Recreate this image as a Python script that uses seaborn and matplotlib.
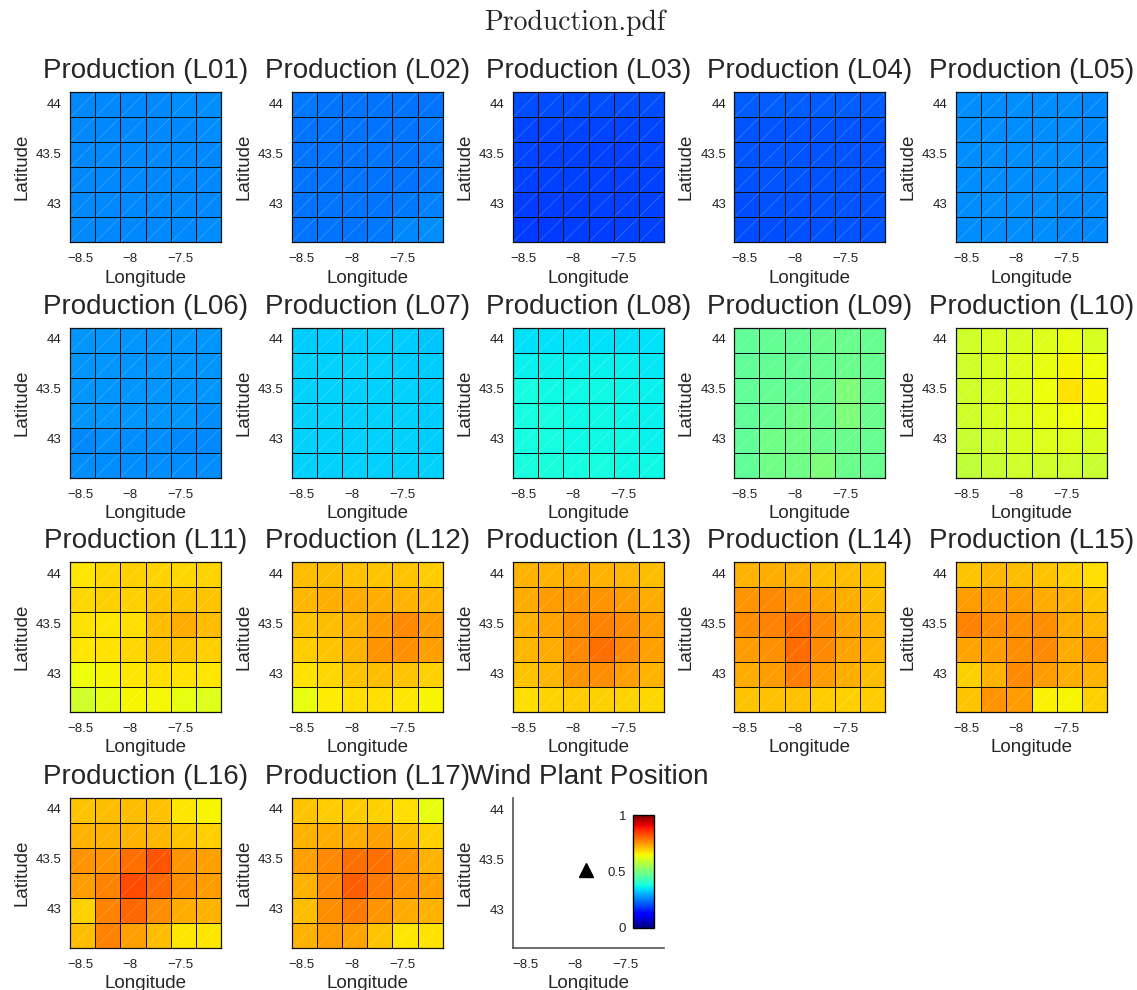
import numpy as np
import pandas as pd
import matplotlib
matplotlib.use("Agg")
import matplotlib.pyplot as plt
import seaborn as sns
from matplotlib.collections import LineCollection

# ---------------- data ----------------
lon_start, lon_step = -8.6, 0.25      # cell edges in longitude (6 cells)
lat_top, lat_step = 44.125, 0.25      # cell edges in latitude (6 cells, top->bottom)
lon_ticks = [-8.5, -8.0, -7.5]
lon_ticklabels = ["\u22128.5", "\u22128", "\u22127.5"]
lat_ticks = [44.0, 43.5, 43.0]
lat_ticklabels = ["44", "43.5", "43"]

# rows are listed from north (top) to south (bottom), columns west -> east
L01 = [[0.26, 0.26, 0.26, 0.26, 0.265, 0.265],
       [0.26, 0.26, 0.26, 0.26, 0.26, 0.265],
       [0.26, 0.26, 0.26, 0.26, 0.26, 0.26],
       [0.26, 0.26, 0.26, 0.26, 0.26, 0.26],
       [0.26, 0.26, 0.26, 0.26, 0.26, 0.26],
       [0.26, 0.26, 0.26, 0.26, 0.26, 0.265]]
L02 = [[0.245, 0.24, 0.24, 0.24, 0.24, 0.24],
       [0.24, 0.24, 0.24, 0.24, 0.24, 0.245],
       [0.24, 0.24, 0.24, 0.24, 0.24, 0.245],
       [0.24, 0.24, 0.24, 0.24, 0.24, 0.245],
       [0.24, 0.24, 0.24, 0.24, 0.245, 0.25],
       [0.24, 0.24, 0.24, 0.245, 0.26, 0.265]]
L03 = [[0.20, 0.20, 0.20, 0.20, 0.20, 0.20],
       [0.195, 0.195, 0.195, 0.195, 0.195, 0.195],
       [0.195, 0.19, 0.19, 0.19, 0.19, 0.195],
       [0.19, 0.19, 0.19, 0.19, 0.19, 0.19],
       [0.185, 0.185, 0.185, 0.19, 0.19, 0.19],
       [0.18, 0.18, 0.185, 0.185, 0.19, 0.19]]
L04 = [[0.215, 0.215, 0.215, 0.215, 0.215, 0.215],
       [0.21, 0.21, 0.21, 0.21, 0.21, 0.21],
       [0.21, 0.21, 0.21, 0.21, 0.21, 0.21],
       [0.205, 0.21, 0.21, 0.21, 0.21, 0.21],
       [0.20, 0.205, 0.205, 0.21, 0.21, 0.21],
       [0.20, 0.20, 0.205, 0.205, 0.21, 0.21]]
L05 = [[0.265, 0.265, 0.265, 0.265, 0.265, 0.26],
       [0.265, 0.265, 0.265, 0.265, 0.265, 0.26],
       [0.265, 0.265, 0.265, 0.265, 0.265, 0.26],
       [0.265, 0.265, 0.265, 0.265, 0.265, 0.26],
       [0.265, 0.265, 0.265, 0.265, 0.26, 0.26],
       [0.265, 0.265, 0.265, 0.265, 0.26, 0.26]]
L06 = [[0.27, 0.27, 0.27, 0.27, 0.27, 0.27],
       [0.27, 0.27, 0.27, 0.27, 0.27, 0.27],
       [0.27, 0.27, 0.27, 0.27, 0.27, 0.27],
       [0.27, 0.27, 0.27, 0.27, 0.27, 0.265],
       [0.26, 0.265, 0.265, 0.265, 0.26, 0.26],
       [0.265, 0.265, 0.265, 0.265, 0.265, 0.265]]
L07 = [[0.325, 0.325, 0.325, 0.325, 0.325, 0.32],
       [0.33, 0.33, 0.33, 0.33, 0.325, 0.325],
       [0.33, 0.33, 0.33, 0.33, 0.33, 0.325],
       [0.33, 0.33, 0.33, 0.33, 0.33, 0.325],
       [0.33, 0.33, 0.33, 0.33, 0.33, 0.325],
       [0.33, 0.33, 0.33, 0.33, 0.33, 0.33]]
L08 = [[0.345, 0.345, 0.345, 0.345, 0.345, 0.345],
       [0.36, 0.36, 0.36, 0.36, 0.36, 0.355],
       [0.375, 0.37, 0.37, 0.37, 0.365, 0.36],
       [0.375, 0.375, 0.37, 0.37, 0.365, 0.36],
       [0.375, 0.375, 0.37, 0.37, 0.37, 0.36],
       [0.38, 0.38, 0.375, 0.375, 0.37, 0.37]]
L09 = [[0.465, 0.47, 0.47, 0.48, 0.48, 0.475],
       [0.465, 0.47, 0.47, 0.475, 0.48, 0.475],
       [0.465, 0.47, 0.47, 0.48, 0.50, 0.48],
       [0.465, 0.475, 0.485, 0.48, 0.50, 0.48],
       [0.465, 0.485, 0.485, 0.48, 0.48, 0.475],
       [0.465, 0.485, 0.485, 0.50, 0.48, 0.475]]
L10 = [[0.60, 0.61, 0.61, 0.62, 0.63, 0.61],
       [0.60, 0.61, 0.62, 0.63, 0.65, 0.64],
       [0.60, 0.61, 0.62, 0.64, 0.67, 0.65],
       [0.60, 0.61, 0.62, 0.63, 0.64, 0.64],
       [0.59, 0.60, 0.61, 0.62, 0.62, 0.61],
       [0.58, 0.59, 0.60, 0.60, 0.60, 0.59]]
L11 = [[0.665, 0.68, 0.69, 0.685, 0.68, 0.685],
       [0.68, 0.69, 0.69, 0.70, 0.70, 0.70],
       [0.67, 0.665, 0.675, 0.71, 0.73, 0.71],
       [0.665, 0.67, 0.68, 0.70, 0.70, 0.69],
       [0.64, 0.65, 0.665, 0.675, 0.67, 0.665],
       [0.60, 0.63, 0.65, 0.645, 0.63, 0.62]]
L12 = [[0.71, 0.71, 0.705, 0.70, 0.70, 0.695],
       [0.715, 0.725, 0.73, 0.725, 0.72, 0.715],
       [0.70, 0.71, 0.72, 0.745, 0.765, 0.745],
       [0.695, 0.70, 0.72, 0.75, 0.755, 0.74],
       [0.67, 0.68, 0.70, 0.71, 0.70, 0.69],
       [0.63, 0.66, 0.675, 0.675, 0.665, 0.65]]
L13 = [[0.72, 0.72, 0.73, 0.72, 0.715, 0.71],
       [0.73, 0.745, 0.75, 0.75, 0.745, 0.73],
       [0.72, 0.735, 0.76, 0.77, 0.76, 0.74],
       [0.715, 0.73, 0.765, 0.79, 0.765, 0.74],
       [0.70, 0.715, 0.75, 0.76, 0.74, 0.72],
       [0.675, 0.685, 0.695, 0.69, 0.685, 0.68]]
L14 = [[0.72, 0.725, 0.72, 0.71, 0.71, 0.70],
       [0.75, 0.765, 0.75, 0.735, 0.725, 0.71],
       [0.76, 0.77, 0.79, 0.765, 0.735, 0.72],
       [0.745, 0.755, 0.795, 0.765, 0.735, 0.72],
       [0.73, 0.745, 0.775, 0.745, 0.725, 0.71],
       [0.70, 0.705, 0.705, 0.695, 0.69, 0.695]]
L15 = [[0.70, 0.715, 0.71, 0.70, 0.69, 0.675],
       [0.745, 0.745, 0.745, 0.73, 0.72, 0.70],
       [0.77, 0.76, 0.755, 0.76, 0.725, 0.715],
       [0.735, 0.745, 0.76, 0.765, 0.73, 0.745],
       [0.69, 0.72, 0.765, 0.745, 0.725, 0.72],
       [0.70, 0.75, 0.745, 0.655, 0.65, 0.69]]
L16 = [[0.70, 0.71, 0.71, 0.705, 0.665, 0.65],
       [0.72, 0.72, 0.72, 0.715, 0.70, 0.69],
       [0.75, 0.75, 0.79, 0.82, 0.75, 0.74],
       [0.745, 0.77, 0.83, 0.80, 0.76, 0.745],
       [0.69, 0.77, 0.80, 0.76, 0.73, 0.72],
       [0.71, 0.77, 0.74, 0.71, 0.665, 0.665]]
L17 = [[0.70, 0.695, 0.695, 0.69, 0.675, 0.63],
       [0.72, 0.725, 0.73, 0.74, 0.71, 0.69],
       [0.74, 0.765, 0.79, 0.79, 0.75, 0.72],
       [0.72, 0.765, 0.81, 0.78, 0.75, 0.74],
       [0.71, 0.76, 0.78, 0.75, 0.73, 0.72],
       [0.72, 0.745, 0.735, 0.70, 0.665, 0.67]]

layers = ["L01", "L02", "L03", "L04", "L05", "L06", "L07", "L08", "L09",
          "L10", "L11", "L12", "L13", "L14", "L15", "L16", "L17"]
layer_values = [L01, L02, L03, L04, L05, L06, L07, L08, L09,
                L10, L11, L12, L13, L14, L15, L16, L17]

plant_lon = [-7.89]
plant_lat = [43.40]
cbar_ticks = [0, 0.5, 1]
cbar_ticklabels = ["0", "0.5", "1"]

# ---------------- style ----------------
sns.set_style("white")
plt.rcParams["font.family"] = ["Liberation Sans", "DejaVu Sans"]

W, H = 1137, 990
fig = plt.figure(figsize=(W / 100, H / 100), dpi=100)

col_left = [70, 291.7, 513, 734.3, 956]
row_top = [92.3, 327.7, 562, 797.7]
aw, ah = 151, 150


def axes_rect(left, top, w, h):
    return [left / W, 1 - (top + h) / H, w / W, h / H]


tick_fs = 9.5
label_fs = 13.5
title_fs = 20

for k, (name, vals) in enumerate(zip(layers, layer_values)):
    r, c = divmod(k, 5)
    ax = fig.add_axes(axes_rect(col_left[c], row_top[r], aw, ah))
    arr = np.array(vals)
    nrow, ncol = arr.shape
    lon_centers = lon_start + lon_step * (np.arange(ncol) + 0.5)
    lat_centers = lat_top - lat_step * (np.arange(nrow) + 0.5)
    df = pd.DataFrame(arr, index=np.round(lat_centers, 3), columns=np.round(lon_centers, 3))
    sns.heatmap(df, ax=ax, cmap="jet", vmin=0, vmax=1, cbar=False,
                linewidths=0.65, linecolor="#111111", square=False)
    # faint diagonal triangulation lines inside each cell
    segs = []
    for i in range(nrow):
        for j in range(ncol):
            segs.append([(j + 0.04, i + 0.96), (j + 0.96, i + 0.04)])
    ax.add_collection(LineCollection(segs, colors="white", linewidths=0.4, alpha=0.3, zorder=3))
    xt = [(t - lon_start) / lon_step for t in lon_ticks]
    yt = [(lat_top - t) / lat_step for t in lat_ticks]
    ax.set_xticks(xt)
    ax.set_xticklabels(lon_ticklabels, rotation=0, fontsize=tick_fs)
    ax.set_yticks(yt)
    ax.set_yticklabels(lat_ticklabels, rotation=0, fontsize=tick_fs)
    ax.tick_params(axis="x", length=0, pad=8, colors="#222222")
    ax.tick_params(axis="y", length=0, pad=6, colors="#222222")
    for s in ax.spines.values():
        s.set_visible(True)
        s.set_color("#111111")
        s.set_linewidth(0.9)
    ax.set_xlabel("Longitude", fontsize=label_fs, labelpad=3)
    ax.set_ylabel("Latitude", fontsize=label_fs, labelpad=4)
    ax.set_title(f"Production ({name})", fontsize=title_fs, pad=10)

# ---- wind plant position panel ----
axw = fig.add_axes(axes_rect(col_left[2], row_top[3], aw, ah))
axw.plot(plant_lon, plant_lat, linestyle="none", marker="^", color="black", markersize=10)
axw.set_xlim(-8.62, -7.12)
axw.set_ylim(42.62, 44.12)
axw.set_xticks(lon_ticks)
axw.set_xticklabels(lon_ticklabels, fontsize=tick_fs)
axw.set_yticks(lat_ticks)
axw.set_yticklabels(lat_ticklabels, fontsize=tick_fs)
axw.tick_params(axis="x", direction="in", length=3, width=0.8, pad=8, colors="#222222")
axw.tick_params(axis="y", direction="in", length=3, width=0.8, pad=6, colors="#222222")
axw.spines["top"].set_visible(False)
axw.spines["right"].set_visible(False)
for s in ("left", "bottom"):
    axw.spines[s].set_color("#555555")
    axw.spines[s].set_linewidth(1.2)
axw.set_xlabel("Longitude", fontsize=label_fs, labelpad=3)
axw.set_ylabel("Latitude", fontsize=label_fs, labelpad=4)
axw.set_title("Wind Plant Position", fontsize=title_fs, pad=10)

cax = fig.add_axes(axes_rect(633.3, 815, 21, 112.7))
sm = matplotlib.cm.ScalarMappable(norm=matplotlib.colors.Normalize(0, 1), cmap="jet")
cb = fig.colorbar(sm, cax=cax, ticks=cbar_ticks)
cb.ax.set_yticklabels(cbar_ticklabels, fontsize=tick_fs)
cb.ax.yaxis.set_ticks_position("left")
cb.ax.yaxis.set_label_position("left")
cb.ax.tick_params(direction="in", length=2, pad=5, colors="#222222")
cb.outline.set_edgecolor("black")
cb.outline.set_linewidth(1.0)

fig.text(574.5 / W, 1 - 23 / H, "Production.pdf", ha="center", va="center",
         fontsize=20, family=["cmr10", "DejaVu Serif"])

fig.savefig("out.png", dpi=100, facecolor="white")
